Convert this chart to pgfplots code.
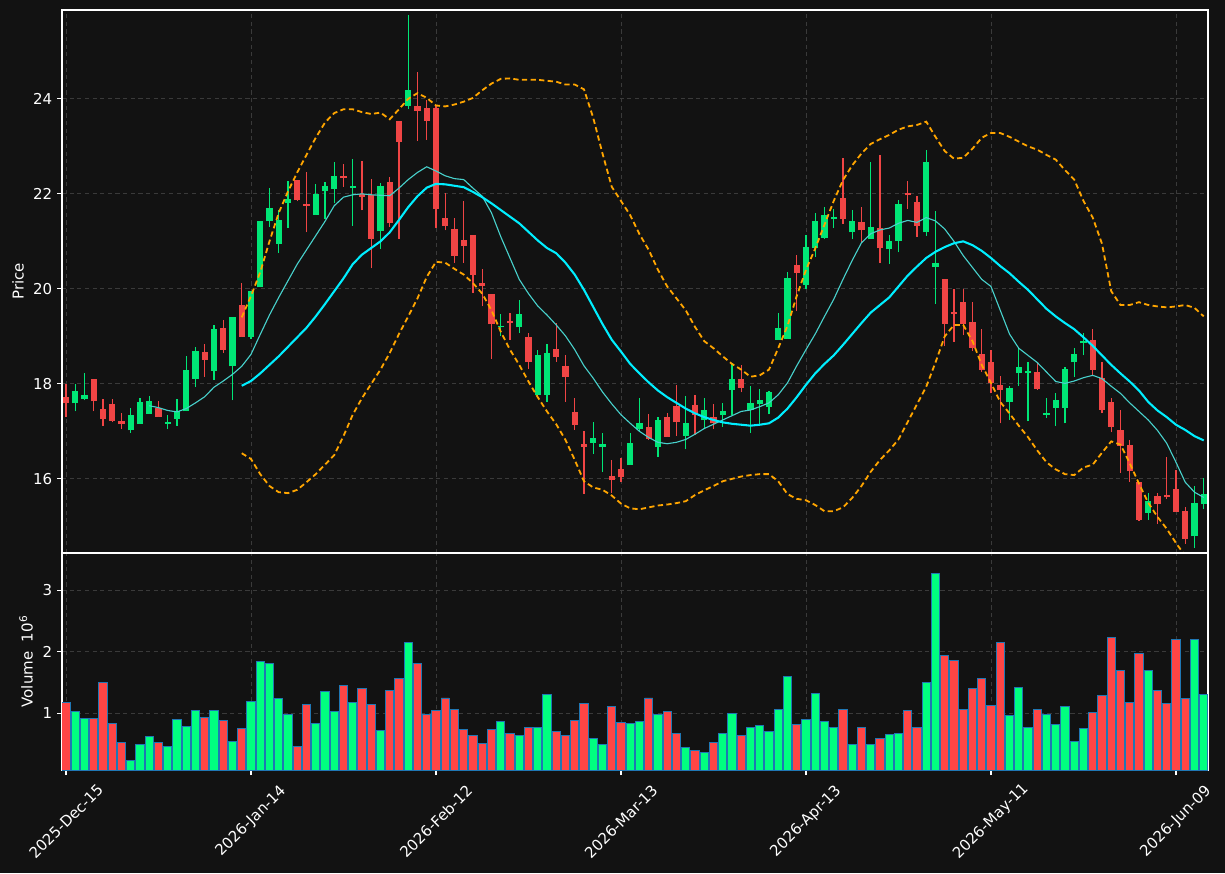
\documentclass[border=0pt]{standalone}
\usepackage{pgfplots}
\pgfplotsset{compat=1.18}
\usepackage{pgfplotstable}
\usepackage{fontspec}
\setmainfont{DejaVu Sans}
\definecolor{bg}{HTML}{121212}
\definecolor{upc}{HTML}{00E676}
\definecolor{dnc}{HTML}{F04545}
\definecolor{vup}{HTML}{00FF80}
\definecolor{vdn}{HTML}{FF4545}
\definecolor{vedge}{HTML}{1F77B4}
\definecolor{gridc}{HTML}{3A3A3A}
\definecolor{maone}{HTML}{48D1CC}
\definecolor{matwo}{HTML}{00EEFF}
\definecolor{bb}{HTML}{FFA500}

\pgfplotstableread{
i o h l c v
1 17.59 18.00 17.42 17.85 1.03
2 17.68 18.22 17.65 17.77 0.91
7 17.02 17.49 16.97 17.35 0.23
8 17.16 17.70 17.16 17.62 0.50
9 17.37 17.75 17.37 17.64 0.62
11 17.16 17.35 17.04 17.20 0.46
12 17.27 17.68 17.12 17.42 0.90
13 17.42 18.59 17.42 18.29 0.78
14 18.11 18.78 17.93 18.69 1.04
16 18.28 19.24 18.08 19.16 1.04
18 18.37 19.41 17.65 19.40 0.55
20 18.99 19.96 18.94 19.96 1.19
21 20.03 21.42 20.03 21.42 1.84
22 21.42 22.12 21.31 21.70 1.81
23 20.95 21.66 20.75 21.45 1.24
24 21.80 22.26 21.28 21.89 0.98
27 21.56 22.20 21.56 22.00 0.83
28 22.05 22.25 21.47 22.17 1.35
29 22.11 22.67 21.80 22.38 1.03
31 22.13 22.73 21.33 22.17 1.17
34 21.21 22.22 20.84 22.17 0.72
37 23.85 25.77 23.78 24.19 2.15
47 19.19 19.47 19.00 19.22 0.86
49 19.19 19.77 19.07 19.47 0.64
51 17.77 18.71 17.73 18.61 0.77
52 17.77 18.84 17.62 18.65 1.30
57 16.76 17.19 16.52 16.87 0.59
58 16.68 16.96 16.14 16.74 0.49
61 16.30 16.96 16.30 16.75 0.83
62 17.05 17.70 17.00 17.18 0.86
64 16.67 17.30 16.47 17.24 0.98
67 16.91 17.74 16.62 17.17 0.44
69 17.23 17.70 17.04 17.45 0.36
71 17.35 17.59 17.10 17.43 0.68
72 17.88 18.43 17.35 18.10 0.99
74 17.45 17.95 16.97 17.59 0.77
75 17.58 17.89 17.15 17.66 0.80
76 17.52 17.84 17.36 17.83 0.70
77 18.93 19.49 18.93 19.18 1.06
78 18.95 20.35 18.95 20.23 1.60
80 20.09 21.14 19.99 20.88 0.90
81 20.87 21.59 20.67 21.43 1.32
82 21.08 21.73 21.05 21.56 0.86
83 21.46 21.68 21.28 21.52 0.77
85 21.19 21.66 21.04 21.43 0.49
87 21.04 22.67 21.04 21.30 0.49
89 20.83 21.14 20.52 21.01 0.65
90 21.00 21.87 20.77 21.79 0.67
93 21.19 22.93 21.12 22.67 1.50
94 20.47 21.63 19.68 20.54 3.27
102 17.61 17.96 17.24 17.92 0.96
103 18.22 18.75 17.96 18.36 1.42
104 18.22 18.47 17.21 18.27 0.77
106 17.35 17.70 17.28 17.38 0.98
107 17.50 17.80 17.12 17.66 0.82
108 17.50 18.36 17.17 18.32 1.11
109 18.45 18.75 18.14 18.63 0.55
110 18.85 19.07 18.60 18.91 0.75
117 15.29 15.70 15.14 15.54 1.69
122 14.79 15.84 14.54 15.49 2.20
123 15.47 16.01 15.36 15.68 1.30
}\uptab

\pgfplotstableread{
i o h l c v
0 17.73 17.99 17.30 17.59 1.17
3 18.10 18.10 17.42 17.63 0.91
4 17.47 17.68 17.12 17.27 1.51
5 17.58 17.68 17.19 17.22 0.83
6 17.22 17.38 17.04 17.16 0.52
10 17.49 17.64 17.31 17.31 0.52
15 18.67 18.83 18.15 18.51 0.93
17 19.18 19.34 18.66 18.72 0.88
19 19.66 20.12 18.99 18.99 0.75
25 22.30 22.30 21.84 21.88 0.46
26 21.78 22.45 21.19 21.75 1.14
30 22.37 22.62 22.15 22.34 1.45
32 21.99 22.69 21.65 21.94 1.40
33 21.98 22.31 20.43 21.05 1.14
35 22.25 22.35 21.30 21.38 1.38
36 23.54 23.54 21.05 23.10 1.56
38 23.85 24.56 23.11 23.75 1.81
39 23.81 23.98 23.14 23.54 0.98
40 23.81 23.85 21.29 21.68 1.04
41 21.50 22.02 21.23 21.33 1.25
42 21.26 21.49 20.55 20.70 1.06
43 21.03 21.85 20.54 20.90 0.73
44 21.14 21.14 19.92 20.30 0.64
45 20.13 20.41 19.63 20.05 0.51
46 19.90 19.90 18.52 19.26 0.73
48 19.33 19.49 18.92 19.29 0.67
50 18.99 19.07 18.31 18.45 0.77
53 18.74 19.28 18.47 18.57 0.70
54 18.38 18.60 17.62 18.15 0.64
55 17.41 17.70 17.03 17.14 0.88
56 16.74 17.00 15.68 16.68 1.16
59 16.07 16.39 15.70 15.97 1.11
60 16.21 16.43 15.93 16.03 0.85
63 17.09 17.37 16.82 16.84 1.25
65 17.30 17.38 16.89 16.89 1.03
66 17.54 17.98 16.90 17.19 0.67
68 17.56 17.77 16.92 17.35 0.39
70 17.30 17.57 17.04 17.17 0.52
73 18.10 18.40 17.82 17.92 0.64
79 20.50 20.72 19.54 20.34 0.82
84 21.92 22.75 21.37 21.48 1.07
86 21.41 21.72 20.96 21.23 0.77
88 21.28 22.82 20.54 20.85 0.59
91 22.01 22.27 21.68 21.97 1.04
92 21.82 21.96 21.10 21.33 0.77
95 20.21 20.21 18.79 19.27 1.94
96 19.51 19.99 18.89 19.48 1.86
97 19.72 19.99 19.02 19.27 1.06
98 19.30 19.73 18.69 18.76 1.40
99 18.63 19.15 18.26 18.29 1.56
100 18.46 18.71 17.80 18.01 1.12
101 17.98 18.16 17.17 17.87 2.16
105 18.25 18.44 17.87 17.90 1.06
111 18.93 19.16 18.19 18.30 1.02
112 18.12 18.45 17.38 17.45 1.29
113 17.61 17.71 16.98 17.10 2.23
114 17.03 17.45 16.12 16.70 1.69
115 16.71 16.82 15.93 16.16 1.17
116 15.93 15.93 15.12 15.14 1.98
118 15.64 15.70 15.05 15.47 1.37
119 15.66 16.47 15.57 15.61 1.16
120 15.79 16.18 15.30 15.31 2.20
121 15.33 15.40 14.63 14.73 1.24
}\dntab

\pgfplotstableread{
i s10 s20 bu bl
9 17.54 nan nan nan
10 17.50 nan nan nan
11 17.44 nan nan nan
12 17.41 nan nan nan
13 17.48 nan nan nan
14 17.60 nan nan nan
15 17.73 nan nan nan
16 17.93 nan nan nan
17 18.06 nan nan nan
18 18.20 nan nan nan
19 18.37 17.96 19.40 16.54
20 18.62 18.06 19.85 16.42
21 19.04 18.22 20.35 16.10
22 19.45 18.40 21.00 15.85
23 19.82 18.58 21.60 15.72
24 20.17 18.78 22.05 15.70
25 20.52 18.98 22.45 15.77
26 20.82 19.18 22.82 15.93
27 21.12 19.42 23.18 16.10
28 21.42 19.68 23.50 16.30
29 21.75 19.95 23.70 16.50
30 21.93 20.22 23.78 16.90
31 21.98 20.52 23.78 17.35
32 22.00 20.72 23.72 17.70
33 21.98 20.86 23.68 18.00
34 21.97 21.00 23.71 18.30
35 21.96 21.19 23.57 18.65
36 22.12 21.45 23.78 19.05
37 22.30 21.72 24.00 19.42
38 22.45 21.95 24.12 19.80
39 22.57 22.13 24.02 20.25
40 22.48 22.21 23.86 20.57
41 22.38 22.20 23.84 20.55
42 22.32 22.17 23.88 20.42
43 22.30 22.14 23.94 20.30
44 22.12 22.04 24.02 20.12
45 21.95 21.93 24.18 19.90
46 21.60 21.80 24.32 19.55
47 21.10 21.66 24.42 19.10
48 20.65 21.52 24.43 18.72
49 20.20 21.38 24.40 18.40
50 19.90 21.20 24.40 18.05
51 19.64 21.02 24.40 17.72
52 19.45 20.86 24.38 17.42
53 19.24 20.75 24.36 17.15
54 19.01 20.55 24.30 16.82
55 18.72 20.30 24.30 16.40
56 18.38 19.98 24.20 15.95
57 18.12 19.62 23.60 15.82
58 17.83 19.26 22.85 15.77
59 17.58 18.93 22.15 15.65
60 17.35 18.68 21.85 15.48
61 17.17 18.42 21.55 15.38
62 17.00 18.22 21.15 15.36
63 16.87 18.03 20.82 15.40
64 16.77 17.86 20.40 15.44
65 16.74 17.72 20.05 15.46
66 16.77 17.60 19.80 15.49
67 16.83 17.48 19.55 15.53
68 16.94 17.38 19.20 15.66
69 17.06 17.30 18.90 15.76
70 17.15 17.24 18.75 15.85
71 17.24 17.19 18.58 15.95
72 17.33 17.16 18.42 16.00
73 17.42 17.14 18.30 16.05
74 17.45 17.12 18.15 16.08
75 17.52 17.14 18.18 16.10
76 17.60 17.17 18.30 16.10
77 17.77 17.29 18.75 15.95
78 18.02 17.48 19.22 15.68
79 18.38 17.72 19.85 15.58
80 18.72 17.98 20.40 15.55
81 19.05 18.22 20.85 15.45
82 19.42 18.42 21.35 15.32
83 19.78 18.60 21.85 15.32
84 20.20 18.82 22.29 15.40
85 20.60 19.05 22.60 15.60
86 20.97 19.28 22.85 15.85
87 21.16 19.50 23.05 16.15
88 21.24 19.66 23.15 16.40
89 21.28 19.82 23.24 16.60
90 21.38 20.05 23.35 16.83
91 21.44 20.28 23.42 17.20
92 21.40 20.47 23.45 17.57
93 21.50 20.65 23.52 17.94
94 21.43 20.78 23.20 18.45
95 21.26 20.88 22.90 19.00
96 21.00 20.96 22.74 19.24
97 20.70 21.00 22.76 19.24
98 20.45 20.92 22.95 18.90
99 20.20 20.80 23.18 18.40
100 20.05 20.65 23.28 18.02
101 19.55 20.48 23.28 17.62
102 19.05 20.33 23.20 17.38
103 18.75 20.15 23.10 17.12
104 18.60 19.98 23.00 16.88
105 18.45 19.78 22.93 16.60
106 18.25 19.58 22.82 16.35
107 18.05 19.42 22.72 16.20
108 18.01 19.28 22.50 16.10
109 18.06 19.15 22.30 16.08
110 18.13 18.98 21.85 16.24
111 18.18 18.80 21.50 16.30
112 18.11 18.60 20.95 16.55
113 17.95 18.40 19.95 16.79
114 17.80 18.22 19.66 16.72
115 17.60 18.05 19.66 16.33
116 17.42 17.86 19.72 15.90
117 17.24 17.62 19.66 15.50
118 17.02 17.44 19.63 15.20
119 16.75 17.30 19.61 14.95
120 16.35 17.14 19.63 14.65
121 15.93 17.03 19.66 14.38
122 15.72 16.90 19.60 14.15
123 15.61 16.81 19.42 13.95
}\linetab

\pgfplotsset{
  darkax/.style={
    scale only axis,
    width=825.1pt,
    xmin=-0.43, xmax=123.46,
    axis background/.style={fill=bg},
    axis line style={white, line width=0.8pt},
    tick style={white, line width=0.8pt},
    major tick length=3.6pt,
    tick align=outside,
    ytick pos=left,
    xtick={0,20,...,120},
    grid=major,
    major grid style={gridc, dash pattern=on 3pt off 2.5pt, line width=0.6pt},
    /pgf/number format/assume math mode=true,
    every tick label/.append style={font=\fontsize{10.8}{13}\selectfont, text=white},
    every axis label/.append style={font=\fontsize{10.8}{13}\selectfont, text=white},
  },
  cndl/.style 2 args={only marks, mark=*, mark size=0pt,
    mark options={draw=none, fill=none}, forget plot,
    error bars/y dir=plus, error bars/y explicit, error bars/error mark=none,
    error bars/error bar style={line width=#1, draw=#2}},
}

\begin{document}
\begin{tikzpicture}
\fill[bg] (0,0) rectangle (882pt,628.56pt);

% Price panel
\begin{axis}[darkax,
  at={(44.64pt,230.4pt)}, anchor=south west,
  height=390.96pt,
  ymin=14.44, ymax=25.87,
  ytick={16,18,20,22,24},
  xticklabels={},
  xtick style={draw=none},
  ylabel={Price},
  ylabel style={at={(axis description cs:-0.0384,0.5)}, anchor=center},
]
% wicks
\addplot[cndl={0.8pt}{upc}]
  table[x=i, y=l, y error plus expr=\thisrow{h}-\thisrow{l}] {\uptab};
\addplot[cndl={0.8pt}{dnc}]
  table[x=i, y=l, y error plus expr=\thisrow{h}-\thisrow{l}] {\dntab};
% bodies
\addplot[cndl={4.5pt}{upc}]
  table[x=i, y=o, y error plus expr=\thisrow{c}-\thisrow{o}] {\uptab};
\addplot[cndl={4.5pt}{dnc}]
  table[x=i, y=c, y error plus expr=\thisrow{o}-\thisrow{c}] {\dntab};
% lines
\addplot[maone, line width=0.8pt] table[x=i, y=s10] {\linetab};
\addplot[matwo, line width=1.5pt] table[x=i, y=s20] {\linetab};
\addplot[bb, line width=1.3pt, dash pattern=on 3.8pt off 2.4pt] table[x=i, y=bu] {\linetab};
\addplot[bb, line width=1.3pt, dash pattern=on 3.8pt off 2.4pt] table[x=i, y=bl] {\linetab};
\end{axis}

% Volume panel
\begin{axis}[darkax,
  at={(44.64pt,74.16pt)}, anchor=south west,
  height=156.24pt,
  ymin=0.078, ymax=3.61,
  ytick={1,2,3},
  xtick pos=bottom,
  xticklabels={2025-Dec-15,2026-Jan-14,2026-Feb-12,2026-Mar-13,2026-Apr-13,2026-May-11,2026-Jun-09},
  xticklabel style={anchor=center, yshift=-33.5pt, rotate=45},
  ylabel={Volume\ \ 10\textsuperscript{6}},
  ylabel style={at={(axis description cs:-0.0314,0.5)}, anchor=center},
  ybar, bar width=0.9, bar shift=0pt,
]
\addplot[fill=vup, draw=vedge, line width=0.7pt] table[x=i, y=v] {\uptab};
\addplot[fill=vdn, draw=vedge, line width=0.7pt] table[x=i, y=v] {\dntab};
\end{axis}

\pgfresetboundingbox
\path[use as bounding box] (0,0) rectangle (882pt,628.56pt);
\end{tikzpicture}
\end{document}
